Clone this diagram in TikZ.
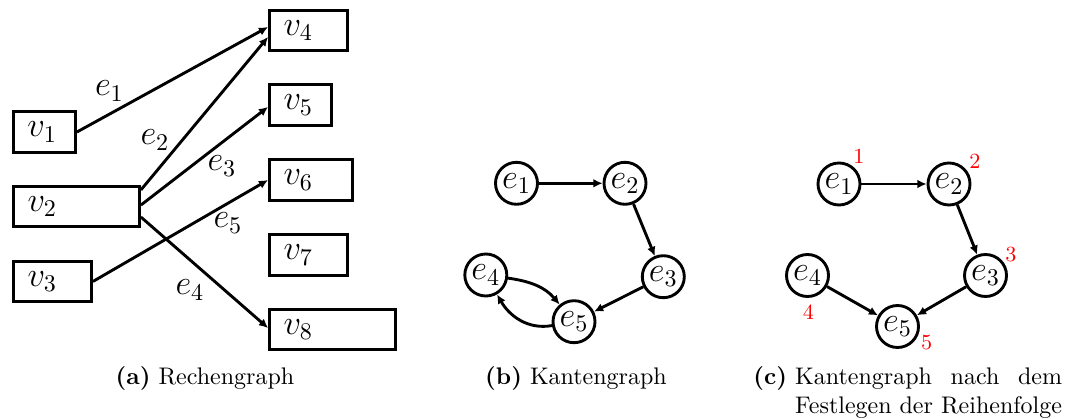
\documentclass[tikz,border=0pt]{standalone}
\usetikzlibrary{arrows.meta}
\newcommand\boxlab[2]{\makebox[#1][l]{#2}}
\newcommand\labsize{\fontsize{14}{17}\selectfont}
\begin{document}
\begin{tikzpicture}[x=0.41667pt,y=-0.41667pt,
  vbox/.style={draw, line width=1.2pt, minimum height=17pt, inner xsep=5.83pt, inner ysep=0pt, font=\labsize},
  enode/.style={draw, circle, line width=1.2pt, minimum size=17.5pt, inner sep=0pt, font=\labsize},
  conn/.style={line width=1.2pt, -{Latex[length=3.8pt,width=3.6pt]}},
  elabel/.style={font=\labsize, inner sep=0pt},
  ordnum/.style={text=red, font=\small, inner sep=0pt},
]
\useasboundingbox (0,0) rectangle (1070,419);

% (a) computation graph
\node[vbox] (v1) at (44.5,132)   {\boxlab{14.17pt}{$v_1$}};
\node[vbox] (v2) at (76.5,206.5) {\boxlab{40.83pt}{$v_2$}};
\node[vbox] (v3) at (52.5,281.5) {\boxlab{20.83pt}{$v_3$}};
\node[vbox] (v4) at (308.5,30.5) {\boxlab{20.83pt}{$v_4$}};
\node[vbox] (v5) at (300.5,105)  {\boxlab{14.17pt}{$v_5$}};
\node[vbox] (v6) at (311,180)    {\boxlab{22.92pt}{$v_6$}};
\node[vbox] (v7) at (308.5,255)  {\boxlab{20.83pt}{$v_7$}};
\node[vbox] (v8) at (332.5,329.5){\boxlab{40.83pt}{$v_8$}};

\draw[conn] (v1.east) -- ([yshift=1.46pt]v4.west);
\draw[conn] ([yshift=6.9pt]v2.east) -- ([yshift=-2.7pt]v4.west);
\draw[conn] ([yshift=0.6pt]v2.east) -- ([yshift=-0.8pt]v5.west);
\draw[conn] ([yshift=-4.4pt]v2.east) -- ([yshift=0.6pt]v8.west);
\draw[conn] (v3.east) -- (v6.west);

\node[elabel] (l1) at (109.5,91) {$e_1$};
\node[elabel] (l2) at (155,140)  {$e_2$};
\node[elabel] (l3) at (222,166)  {$e_3$};
\node[elabel] (l5) at (228,223)  {$e_5$};
\node[elabel] (l4) at (190,290)  {$e_4$};

\node[anchor=base] (capa) at (205,385) {\textbf{(a)}\ Rechengraph};

% (b) edge graph
\node[enode] (b1) at (516.5,183.3) {$e_1$};
\node[enode] (b2) at (625,183.3)   {$e_2$};
\node[enode] (b3) at (663.3,276.7) {$e_3$};
\node[enode] (b4) at (485.8,275)   {$e_4$};
\node[enode] (b5) at (574,321.7)   {$e_5$};

\draw[conn] (b1) -- (b2);
\draw[conn] (b2) -- (b3);
\draw[conn] (b3) -- (b5);
\draw[conn] (b4) to[out=-8, in=130] (b5);
\draw[conn] (b5) to[out=190, in=-60] (b4);

\node[anchor=base] (capb) at (576,385) {\textbf{(b)}\ Kantengraph};

% (c) edge graph with fixed order
\node[enode] (c1) at (839,184)     {$e_1$};
\node[enode] (c2) at (949,184)     {$e_2$};
\node[enode] (c3) at (985.5,275.5) {$e_3$};
\node[enode] (c4) at (807.5,275.5) {$e_4$};
\node[enode] (c5) at (897.5,326.5) {$e_5$};

\draw[conn] (c1) -- (c2);
\draw[conn] (c2) -- (c3);
\draw[conn] (c3) -- (c5);
\draw[conn] (c4) -- (c5);

\node[ordnum] (n1) at (859,156.5) {1};
\node[ordnum] (n2) at (975,161.7) {2};
\node[ordnum] (n3) at (1011,255)  {3};
\node[ordnum] (n4) at (808.5,311.7) {4};
\node[ordnum] (n5) at (926.7,343) {5};

\node[anchor=base west, inner sep=0pt] (capc) at (753,385)
  {\textbf{(c)}\ \begin{tabular}[t]{@{}l@{}}Kantengraph\hfill nach\hfill dem\\Festlegen der Reihenfolge\end{tabular}};
\end{tikzpicture}
\end{document}
